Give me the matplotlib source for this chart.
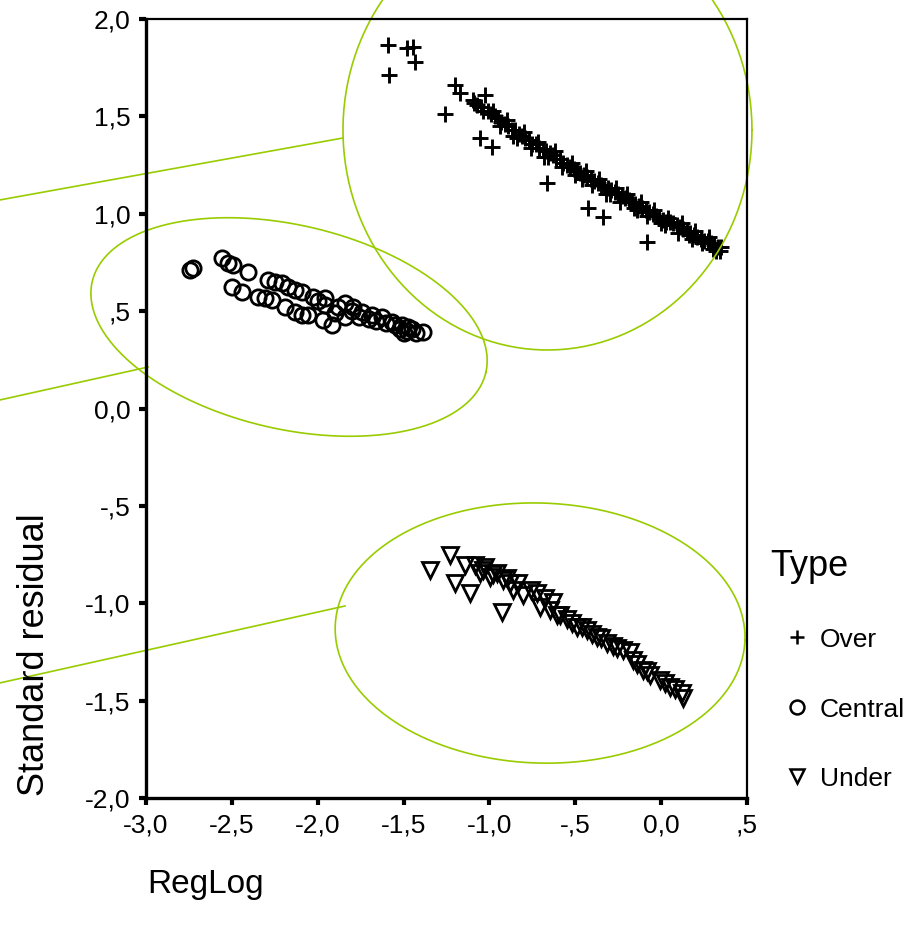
import numpy as np
import matplotlib
matplotlib.use("Agg")
import matplotlib.pyplot as plt
from matplotlib.ticker import FuncFormatter
from matplotlib.lines import Line2D

plt.rcParams['font.family'] = ['Liberation Sans', 'DejaVu Sans']

# --- data ---
over_x = [-1.59, -1.48, -1.445, -1.433, -1.585, -1.20, -1.171, -1.259, -1.026, -1.096,
          -1.055, -0.985, -0.665, -0.426, -0.338, -0.082,
          -1.09, -1.07, -1.05, -1.04, -1.01, -0.99, -0.97, -0.95, -0.93, -0.91,
          -0.89, -0.87, -0.85, -0.83, -0.81, -0.79, -0.77, -0.75, -0.73, -0.71,
          -0.69, -0.67, -0.65, -0.63, -0.61, -0.59, -0.57, -0.55, -0.53, -0.51,
          -0.49, -0.47, -0.45, -0.43, -0.41, -0.39, -0.37, -0.35, -0.33, -0.31,
          -0.29, -0.27, -0.25, -0.23, -0.21, -0.19, -0.17, -0.15, -0.13, -0.11,
          -0.09, -0.07, -0.05, -0.03, -0.01, 0.01, 0.03, 0.05, 0.07, 0.09,
          0.11, 0.13, 0.15, 0.17, 0.19, 0.21, 0.23, 0.25, 0.27, 0.29,
          0.31, 0.33, 0.35,
          -0.98, -0.90, -0.80, -0.72, -0.62, -0.52, -0.44, -0.36, -0.26, -0.20,
          -0.12, -0.04, 0.04, 0.12, 0.20, 0.28, -0.86, -0.66, -0.46, -0.30,
          -0.14, 0.00, 0.18, 0.32, 0.34,
          -0.94, -0.84, -0.76, -0.68, -0.58, -0.50, -0.40, -0.32, -0.24, -0.16,
          -0.08, 0.02, 0.10, 0.16, 0.24, 0.30]
over_y = [1.866, 1.851, 1.856, 1.779, 1.712, 1.661, 1.620, 1.512, 1.610, 1.584,
          1.389, 1.343, 1.158, 1.030, 0.983, 0.855,
          1.57, 1.56, 1.55, 1.53, 1.53, 1.51, 1.50, 1.49, 1.47, 1.46,
          1.45, 1.43, 1.43, 1.41, 1.40, 1.39, 1.38, 1.36, 1.36, 1.34,
          1.33, 1.32, 1.31, 1.30, 1.28, 1.28, 1.26, 1.25, 1.24, 1.23,
          1.22, 1.21, 1.20, 1.19, 1.18, 1.17, 1.16, 1.15, 1.14, 1.13,
          1.12, 1.11, 1.10, 1.09, 1.08, 1.07, 1.06, 1.05, 1.04, 1.03,
          1.02, 1.01, 1.00, 0.99, 0.98, 0.97, 0.96, 0.96, 0.95, 0.94,
          0.93, 0.92, 0.91, 0.90, 0.89, 0.88, 0.87, 0.86, 0.86, 0.85,
          0.84, 0.83, 0.83,
          1.53, 1.48, 1.42, 1.37, 1.32, 1.26, 1.22, 1.18, 1.13, 1.10,
          1.06, 1.02, 0.98, 0.95, 0.91, 0.88, 1.40, 1.29, 1.18, 1.10,
          1.02, 0.95, 0.87, 0.81, 0.81,
          1.45, 1.39, 1.34, 1.29, 1.24, 1.20, 1.15, 1.10, 1.06, 1.03,
          0.99, 0.94, 0.90, 0.89, 0.85, 0.82]

central_x = [-2.744, -2.726, -2.557, -2.522, -2.493, -2.406, -2.499, -2.441, -2.348, -2.307,
             -2.266, -2.289, -2.249, -2.208, -2.173, -2.132, -2.091, -2.190, -2.132, -2.091,
             -2.057, -1.957, -1.957, -1.969, -1.917, -1.841, -1.794, -1.742, -1.684, -1.626,
             -1.567, -1.509, -1.474, -1.387, -1.899, -1.841, -2.03, -2.00, -1.88, -1.80,
             -1.76, -1.70, -1.66, -1.60, -1.55, -1.52, -1.48, -1.45, -1.50, -1.43]
central_y = [0.711, 0.721, 0.773, 0.747, 0.737, 0.701, 0.624, 0.598, 0.573, 0.567,
             0.557, 0.660, 0.650, 0.644, 0.624, 0.608, 0.598, 0.521, 0.496, 0.480,
             0.480, 0.567, 0.531, 0.454, 0.429, 0.542, 0.521, 0.496, 0.480, 0.470,
             0.444, 0.429, 0.419, 0.393, 0.490, 0.470, 0.57, 0.55, 0.52, 0.50,
             0.47, 0.46, 0.45, 0.44, 0.43, 0.41, 0.40, 0.41, 0.39, 0.39]

under_x = [-1.229, -1.346, -1.200, -1.113, -0.927, -1.142, -1.084, -1.026, -1.055, -0.997,
           -0.956, -0.921, -0.880, -0.833, -0.863, -0.804, -0.723, -0.676, -0.705, -0.647,
           -0.606, -0.630, -0.589, -0.490, -0.432, -0.373, -0.315, -0.257, -0.181, -0.164,
           -0.105, -0.065, -0.006, 0.052, 0.122, 0.128,
           -1.04, -0.98, -0.90, -0.76, -0.55, -0.52, -0.46, -0.40, -0.35, -0.28,
           -0.22, -0.14, -0.08, 0.02, 0.08]
under_y = [-0.752, -0.829, -0.896, -0.947, -1.045, -0.804, -0.804, -0.814, -0.845, -0.865,
           -0.845, -0.881, -0.896, -0.896, -0.932, -0.958, -0.947, -0.973, -1.019, -1.035,
           -1.060, -0.994, -1.060, -1.122, -1.137, -1.173, -1.204, -1.230, -1.250, -1.291,
           -1.343, -1.368, -1.394, -1.430, -1.461, -1.487,
           -0.83, -0.85, -0.87, -0.93, -1.08, -1.10, -1.12, -1.16, -1.18, -1.22,
           -1.24, -1.31, -1.35, -1.41, -1.44]

type_labels = ["Over", "Central", "Under"]
x_ticks = [-3.0, -2.5, -2.0, -1.5, -1.0, -0.5, 0.0, 0.5]
y_ticks = [-2.0, -1.5, -1.0, -0.5, 0.0, 0.5, 1.0, 1.5, 2.0]

GREEN = '#99cc00'
W, H = 912, 930

fig = plt.figure(figsize=(W / 100, H / 100), dpi=100)
ax = fig.add_axes([146 / W, 1 - 798 / H, 601 / W, 779 / H])
ax.set_xlim(-3.0, 0.5)
ax.set_ylim(-2.0, 2.0)

ax.plot(over_x, over_y, ls='none', marker='+', ms=12, mew=2.1, color='black', clip_on=False)
ax.plot(central_x, central_y, ls='none', marker='o', ms=11, mew=2.0, mfc='none', mec='black')
ax.plot(under_x, under_y, ls='none', marker='v', ms=11, mew=2.0, mfc='none', mec='black')


def tick_fmt(v, pos):
    s = f"{v:.1f}".replace('.', ',')
    if s.startswith('0,') and v != 0:
        s = s[1:]
    if s.startswith('-0,'):
        s = '-' + s[2:]
    return s


ax.set_xticks(x_ticks)
ax.set_yticks(y_ticks)
ax.xaxis.set_major_formatter(FuncFormatter(tick_fmt))
ax.yaxis.set_major_formatter(FuncFormatter(tick_fmt))
ax.tick_params(direction='out', length=5, width=3, labelsize=19, pad=6)
for side in ['left', 'bottom']:
    ax.spines[side].set_linewidth(2.4)
for side in ['top', 'right']:
    ax.spines[side].set_linewidth(1.6)


def ellipse(cx, cy, a_px, b_px, ang_deg):
    # ellipse sized in pixels, centred on a data point
    t = np.linspace(0, 2 * np.pi, 300)
    ang = np.radians(ang_deg)
    dx = a_px * np.cos(t) * np.cos(ang) - b_px * np.sin(t) * np.sin(ang)
    dy = a_px * np.cos(t) * np.sin(ang) + b_px * np.sin(t) * np.cos(ang)
    c = ax.transData.transform((cx, cy))
    pts = ax.transData.inverted().transform(np.column_stack([c[0] + dx, c[1] + dy]))
    ax.plot(pts[:, 0], pts[:, 1], color=GREEN, lw=1.2, clip_on=False)


ellipse(-0.662, 1.430, 204.5, 220, 0)
ellipse(-2.167, 0.4185, 202, 102, -13)
ellipse(-0.705, -1.153, 205, 130, -2)

# connector lines running off the left edge
ax.plot([-3.85, -1.853], [1.071, 1.389], color=GREEN, lw=1.2, clip_on=False)
ax.plot([-3.85, -2.988], [0.044, 0.213], color=GREEN, lw=1.2, clip_on=False)
ax.plot([-3.85, -1.841], [-1.409, -1.014], color=GREEN, lw=1.2, clip_on=False)

fig.text(147 / W, 1 - 884 / H, "RegLog", fontsize=24, ha='left', va='center')
fig.text(35 / W, 1 - 655 / H, "Standard residual", fontsize=26, rotation=90,
         ha='center', va='center')

# legend
fig.text(770 / W, 1 - 567 / H, "Type", fontsize=26, ha='left', va='center')
markers = [('+', 'black'), ('o', 'none'), ('v', 'none')]
rows = [640, 710, 779]
for (m, fc), lab, yy in zip(markers, type_labels, rows):
    fig.add_artist(Line2D([797 / W], [1 - (yy - 3) / H], transform=fig.transFigure,
                          marker=m, ms=10, mew=1.8, mfc=fc, mec='black', color='black', ls='none'))
    fig.text(820 / W, 1 - yy / H, lab, fontsize=19, ha='left', va='center')

fig.savefig("out.png", dpi=100)
